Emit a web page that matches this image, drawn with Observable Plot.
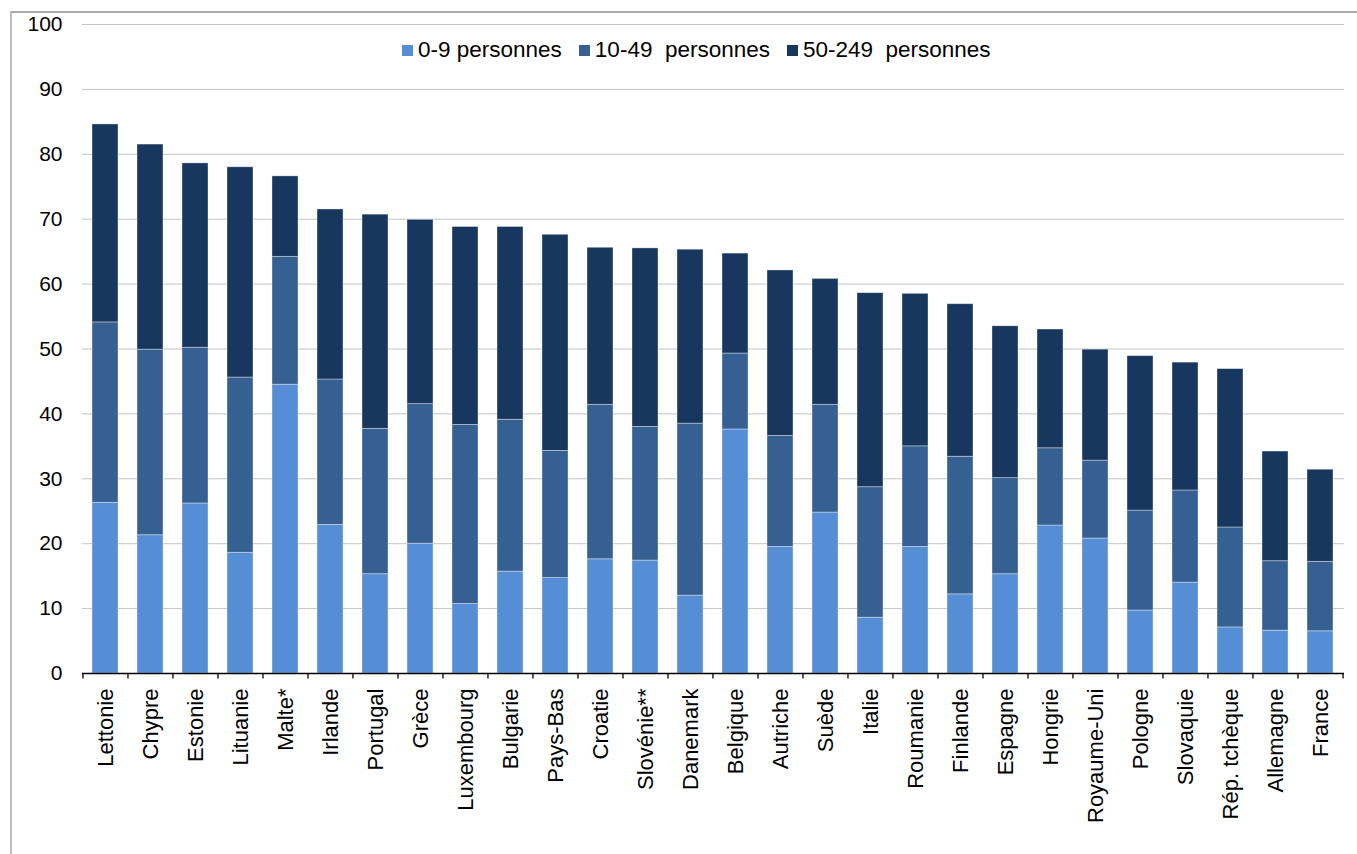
<!DOCTYPE html>
<html lang="fr">
<head>
<meta charset="utf-8">
<script src="https://cdn.jsdelivr.net/npm/d3@7"></script>
<script src="https://cdn.jsdelivr.net/npm/@observablehq/plot@0.6"></script>
<style>
  html, body { margin: 0; padding: 0; background: #fff; }
  #wrap { position: relative; width: 1357px; height: 854px; overflow: hidden; font-family: "Liberation Sans", Arial, sans-serif; }
  #frame { position: absolute; left: 10px; top: 11px; right: 0; bottom: 0; border-top: 2px solid #a9a9a9; border-left: 2px solid #bdbdbd; }
  #chart { position: absolute; left: 0; top: 0; }
  #legend { position: absolute; left: 402px; top: 37px; display: flex; align-items: center; font-size: 22.5px; color: #000; white-space: pre; }
  .item { display: flex; align-items: center; margin-right: 17px; }
  .sw { width: 11px; height: 11px; margin-right: 5px; }
</style>
</head>
<body>
<div id="wrap">
  <div id="frame"></div>
  <div id="chart"></div>
  <div id="legend"></div>
</div>
<script>
const countries = ["Lettonie","Chypre","Estonie","Lituanie","Malte*","Irlande","Portugal","Grèce","Luxembourg","Bulgarie","Pays-Bas","Croatie","Slovénie**","Danemark","Belgique","Autriche","Suède","Italie","Roumanie","Finlande","Espagne","Hongrie","Royaume-Uni","Pologne","Slovaquie","Rép. tchèque","Allemagne","France"];
const seriesNames = ["0-9 personnes", "10-49  personnes", "50-249  personnes"];
const seriesColors = ["#558ED5", "#376092", "#17375E"];
const small  = [26.3,21.3,26.2,18.6,44.5,22.9,15.3,20.0,10.7,15.7,14.7,17.6,17.4,12.0,37.6,19.5,24.8, 8.6,19.5,12.2,15.3,22.8,20.8, 9.7,14.0, 7.1, 6.6, 6.5];
const medium = [27.8,28.6,24.0,27.0,19.7,22.4,22.4,21.5,27.6,23.4,19.6,23.8,20.6,26.5,11.7,17.1,16.6,20.1,15.5,21.2,14.8,11.9,12.0,15.4,14.2,15.4,10.7,10.7];
const large  = [30.5,31.6,28.4,32.4,12.4,26.2,33.0,28.4,30.5,29.7,33.3,24.2,27.5,26.8,15.4,25.5,19.4,29.9,23.5,23.5,23.4,18.3,17.1,23.8,19.7,24.4,16.9,14.2];
const yTicks = [0,10,20,30,40,50,60,70,80,90,100];

const seriesValues = [small, medium, large];
const rows = [];
countries.forEach((c, i) => {
  seriesNames.forEach((s, j) => rows.push({country: c, series: s, value: seriesValues[j][i]}));
});

const W = 1357, H = 854;
const mL = 82, mR = 13, mT = 24, mB = 181;
const step = (W - mL - mR) / countries.length;
const font = '"Liberation Sans", Arial, sans-serif';

const chart = Plot.plot({
  width: W,
  height: H,
  marginLeft: mL,
  marginRight: mR,
  marginTop: mT,
  marginBottom: mB,
  style: {fontFamily: font, background: "transparent", overflow: "visible", color: "#000"},
  x: {domain: countries, paddingInner: 0.42, paddingOuter: 0.21, label: null, axis: null},
  y: {domain: [0, 100], label: null, axis: null},
  color: {domain: seriesNames, range: seriesColors},
  marks: [
    Plot.gridY(yTicks, {stroke: "#c4c4c4", strokeOpacity: 1, strokeWidth: 1}),
    Plot.barY(rows, {x: "country", y: "value", fill: "series", stroke: "#ffffff", strokeOpacity: 0.45, strokeWidth: 0.8}),
    Plot.ruleY([0], {stroke: "#000", strokeWidth: 1.5}),
    Plot.ruleX(countries, {x: d => d, y1: 0, y2: -0.85, dx: -step / 2, stroke: "#000", strokeWidth: 1.3}),
    Plot.ruleX(countries.slice(-1), {x: d => d, y1: 0, y2: -0.85, dx: step / 2, stroke: "#000", strokeWidth: 1.3}),
    Plot.axisY(yTicks, {tickSize: 0, tickPadding: 20, fontSize: 21, label: null}),
    Plot.axisX(countries, {tickSize: 0, tickPadding: 15, tickRotate: -90, fontSize: 22, label: null})
  ]
});
document.getElementById("chart").appendChild(chart);

const legend = document.getElementById("legend");
seriesNames.forEach((s, j) => {
  const it = document.createElement("div");
  it.className = "item";
  const sw = document.createElement("span");
  sw.className = "sw";
  sw.style.background = seriesColors[j];
  const tx = document.createElement("span");
  tx.textContent = s;
  it.appendChild(sw);
  it.appendChild(tx);
  legend.appendChild(it);
});
</script>
</body>
</html>
